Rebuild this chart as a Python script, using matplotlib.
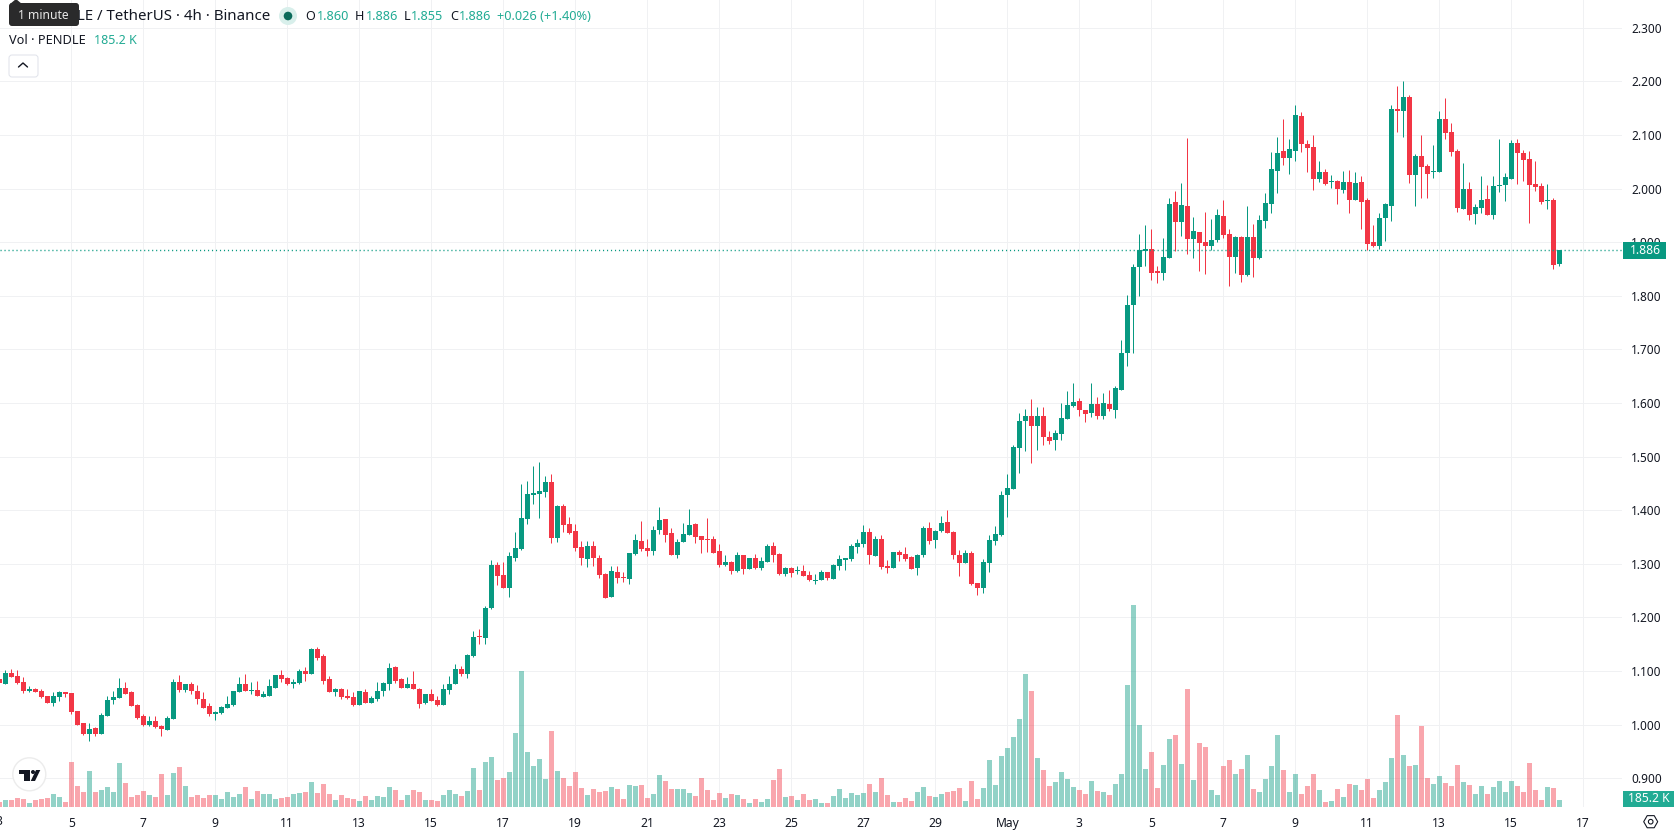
import numpy as np
import matplotlib
matplotlib.use("Agg")
import matplotlib.pyplot as plt
from matplotlib.patches import Circle, FancyBboxPatch, Polygon, Rectangle, RegularPolygon

# PENDLE / TetherUS, 4h candles
opens = [
    1.084,1.076,1.097,1.090,1.080,1.063,1.067,1.062,1.054,1.041,1.052,1.060,
    1.058,1.026,1.002,0.983,0.993,0.983,1.015,1.045,1.050,1.069,1.060,1.037,
    1.015,1.000,1.006,0.998,0.989,1.011,1.080,1.065,1.075,1.062,1.047,1.034,
    1.019,1.022,1.030,1.037,1.060,1.076,1.063,1.065,1.052,1.054,1.069,1.093,
    1.086,1.075,1.078,1.099,1.095,1.140,1.127,1.084,1.060,1.067,1.054,1.052,
    1.037,1.060,1.041,1.047,1.062,1.076,1.108,1.084,1.069,1.076,1.067,1.041,
    1.056,1.045,1.037,1.065,1.076,1.104,1.095,1.127,1.165,1.161,1.217,1.298,
    1.279,1.255,1.311,1.327,1.383,1.428,1.430,1.434,1.452,1.348,1.407,1.374,
    1.361,1.331,1.309,1.333,1.311,1.281,1.238,1.285,1.275,1.272,1.318,1.342,
    1.329,1.324,1.363,1.383,1.357,1.316,1.340,1.354,1.374,1.352,1.346,1.346,
    1.324,1.298,1.303,1.286,1.316,1.290,1.311,1.292,1.303,1.333,1.318,1.281,
    1.292,1.286,1.286,1.279,1.268,1.270,1.285,1.272,1.296,1.307,1.309,1.331,
    1.337,1.359,1.314,1.346,1.296,1.292,1.322,1.318,1.312,1.292,1.316,1.367,
    1.344,1.361,1.378,1.359,1.316,1.301,1.320,1.264,1.255,1.301,1.342,1.354,
    1.428,1.439,1.516,1.566,1.575,1.557,1.575,1.536,1.531,1.542,1.570,1.594,
    1.603,1.586,1.581,1.598,1.575,1.598,1.586,1.625,1.693,1.782,1.853,1.883,
    1.888,1.847,1.843,1.871,1.974,1.937,1.968,1.905,1.918,1.901,1.892,1.903,
    1.948,1.916,1.873,1.909,1.838,1.909,1.871,1.940,1.971,2.033,2.070,2.057,
    2.070,2.135,2.083,2.078,2.018,2.031,2.012,2.014,1.998,2.012,1.979,2.012,
    1.979,1.901,1.893,1.945,1.968,2.148,2.145,2.171,2.026,2.061,2.042,2.031,
    2.031,2.130,2.106,2.070,1.962,1.999,1.953,1.964,1.981,1.951,2.005,2.007,
    2.018,2.085,2.066,2.055,2.009,2.005,1.977,1.979,1.860,
]
highs = [
    1.084,1.101,1.103,1.101,1.088,1.071,1.069,1.067,1.054,1.060,1.062,1.060,
    1.058,1.026,1.003,1.002,0.996,1.021,1.054,1.063,1.086,1.080,1.062,1.039,
    1.019,1.015,1.015,1.000,1.015,1.084,1.093,1.076,1.080,1.073,1.060,1.041,
    1.026,1.035,1.054,1.063,1.088,1.095,1.080,1.082,1.063,1.084,1.093,1.101,
    1.088,1.084,1.103,1.108,1.142,1.144,1.131,1.090,1.069,1.069,1.067,1.060,
    1.063,1.067,1.054,1.080,1.080,1.114,1.110,1.086,1.088,1.099,1.069,1.056,
    1.067,1.054,1.075,1.090,1.112,1.110,1.131,1.174,1.178,1.221,1.307,1.303,
    1.303,1.322,1.359,1.449,1.454,1.482,1.490,1.463,1.467,1.409,1.411,1.387,
    1.374,1.342,1.342,1.342,1.316,1.283,1.296,1.296,1.285,1.320,1.355,1.380,
    1.346,1.370,1.406,1.383,1.367,1.346,1.376,1.402,1.376,1.352,1.385,1.352,
    1.337,1.316,1.305,1.322,1.316,1.311,1.318,1.312,1.337,1.340,1.320,1.294,
    1.294,1.296,1.298,1.286,1.281,1.288,1.285,1.299,1.316,1.311,1.337,1.346,
    1.372,1.367,1.352,1.354,1.307,1.322,1.325,1.331,1.314,1.318,1.370,1.378,
    1.363,1.389,1.400,1.361,1.325,1.325,1.324,1.264,1.309,1.354,1.370,1.435,
    1.467,1.521,1.581,1.588,1.607,1.592,1.592,1.547,1.549,1.599,1.622,1.637,
    1.609,1.586,1.637,1.611,1.618,1.625,1.631,1.717,1.801,1.860,1.916,1.931,
    1.924,1.855,1.907,1.983,1.996,2.011,2.095,1.946,1.918,1.957,1.944,1.961,
    1.979,1.924,1.911,1.912,1.968,1.933,1.951,1.992,2.068,2.096,2.130,2.093,
    2.156,2.143,2.091,2.100,2.052,2.037,2.026,2.016,2.033,2.035,2.031,2.024,
    1.983,1.931,1.955,1.973,2.156,2.191,2.201,2.175,2.065,2.100,2.046,2.081,
    2.145,2.169,2.122,2.074,2.048,2.012,1.971,2.024,2.007,2.024,2.093,2.029,
    2.091,2.093,2.072,2.070,2.052,2.011,2.009,1.983,1.886,
]
lows = [
    1.078,1.076,1.088,1.076,1.058,1.060,1.060,1.050,1.041,1.035,1.043,1.052,
    1.020,1.000,0.980,0.970,0.978,0.983,1.015,1.039,1.050,1.056,1.034,1.011,
    0.998,0.998,0.993,0.978,0.989,1.011,1.060,1.060,1.056,1.039,1.030,1.015,
    1.009,1.019,1.030,1.035,1.060,1.062,1.056,1.054,1.052,1.054,1.069,1.080,
    1.073,1.069,1.075,1.082,1.095,1.121,1.076,1.060,1.054,1.047,1.047,1.034,
    1.037,1.041,1.041,1.043,1.054,1.065,1.078,1.069,1.069,1.067,1.030,1.039,
    1.043,1.035,1.037,1.056,1.076,1.091,1.086,1.126,1.150,1.150,1.216,1.260,
    1.255,1.238,1.305,1.326,1.374,1.411,1.385,1.424,1.339,1.340,1.359,1.355,
    1.324,1.298,1.294,1.296,1.273,1.236,1.238,1.264,1.266,1.262,1.316,1.324,
    1.314,1.316,1.355,1.340,1.316,1.311,1.340,1.354,1.339,1.320,1.322,1.320,
    1.294,1.296,1.281,1.285,1.281,1.290,1.290,1.288,1.303,1.303,1.279,1.277,
    1.275,1.281,1.277,1.268,1.262,1.270,1.270,1.272,1.288,1.288,1.305,1.320,
    1.331,1.299,1.314,1.290,1.283,1.292,1.305,1.305,1.290,1.279,1.312,1.337,
    1.329,1.359,1.357,1.309,1.277,1.301,1.260,1.242,1.245,1.285,1.335,1.352,
    1.387,1.439,1.469,1.510,1.488,1.512,1.521,1.523,1.512,1.531,1.570,1.592,
    1.575,1.564,1.573,1.570,1.570,1.585,1.571,1.625,1.668,1.694,1.799,1.855,
    1.830,1.823,1.830,1.871,1.883,1.912,1.877,1.870,1.847,1.840,1.886,1.901,
    1.907,1.819,1.842,1.825,1.836,1.834,1.869,1.927,1.955,1.992,2.044,2.027,
    2.052,2.068,2.031,1.998,2.012,2.007,2.001,1.971,1.992,1.955,1.979,1.925,
    1.886,1.891,1.888,1.902,1.940,2.106,2.096,2.011,1.968,1.983,1.983,2.020,
    2.031,2.093,2.061,1.957,1.962,1.942,1.934,1.955,1.951,1.944,1.994,1.977,
    2.018,2.009,2.014,1.936,1.996,1.971,1.962,1.850,1.855,
]
closes = [
    1.078,1.097,1.088,1.078,1.063,1.067,1.060,1.052,1.041,1.054,1.060,1.056,
    1.024,1.000,0.983,0.991,0.983,1.017,1.045,1.052,1.069,1.056,1.035,1.013,
    1.000,1.006,0.996,0.991,1.013,1.080,1.065,1.075,1.062,1.047,1.030,1.019,
    1.024,1.032,1.039,1.062,1.076,1.063,1.065,1.054,1.056,1.071,1.093,1.084,
    1.075,1.080,1.099,1.095,1.140,1.125,1.082,1.060,1.067,1.052,1.050,1.037,
    1.062,1.041,1.050,1.062,1.078,1.106,1.082,1.069,1.076,1.067,1.039,1.056,
    1.043,1.037,1.067,1.076,1.104,1.095,1.129,1.163,1.163,1.217,1.298,1.277,
    1.255,1.314,1.329,1.385,1.430,1.432,1.435,1.452,1.348,1.407,1.372,1.357,
    1.329,1.311,1.333,1.311,1.279,1.236,1.286,1.273,1.273,1.320,1.344,1.327,
    1.324,1.363,1.381,1.354,1.316,1.340,1.355,1.372,1.350,1.344,1.344,1.320,
    1.298,1.303,1.286,1.316,1.290,1.311,1.292,1.305,1.333,1.316,1.281,1.292,
    1.283,1.288,1.277,1.270,1.270,1.285,1.273,1.298,1.309,1.311,1.333,1.339,
    1.359,1.316,1.346,1.294,1.292,1.322,1.316,1.309,1.290,1.316,1.367,1.342,
    1.361,1.376,1.357,1.316,1.301,1.320,1.262,1.255,1.303,1.344,1.355,1.428,
    1.441,1.517,1.566,1.575,1.557,1.575,1.536,1.529,1.544,1.571,1.596,1.601,
    1.586,1.579,1.598,1.575,1.599,1.588,1.627,1.693,1.782,1.853,1.885,1.888,
    1.843,1.843,1.873,1.972,1.937,1.970,1.905,1.920,1.899,1.892,1.903,1.950,
    1.914,1.873,1.909,1.838,1.909,1.871,1.942,1.973,2.037,2.066,2.057,2.074,
    2.137,2.083,2.076,2.018,2.031,2.009,2.014,1.999,2.012,1.979,2.011,1.975,
    1.897,1.893,1.945,1.971,2.148,2.145,2.171,2.026,2.061,2.040,2.027,2.033,
    2.130,2.104,2.068,1.964,1.999,1.951,1.966,1.979,1.951,2.005,2.007,2.022,
    2.085,2.066,2.053,2.007,2.003,1.975,1.979,1.858,1.886,
]
# Traded volume per candle, thousands of PENDLE
volumes_k = [
    132,185,185,238,212,106,185,212,238,344,265,132,
    1191,556,397,953,397,450,529,397,1164,635,265,318,
    423,318,265,873,318,900,1058,556,265,318,238,318,
    318,212,397,265,344,529,212,423,344,344,212,238,
    265,344,370,397,661,370,609,344,185,318,238,212,
    159,291,185,291,265,529,450,185,318,450,397,185,
    185,159,318,450,344,291,423,1032,450,1191,1323,714,
    767,926,1958,3598,1455,1085,1270,741,2011,953,767,556,
    926,503,318,476,397,423,529,476,212,582,556,582,
    238,344,847,688,476,476,476,370,291,767,450,185,
    370,238,344,318,212,106,212,132,212,714,1005,265,
    291,185,344,185,212,106,106,291,476,238,370,318,
    370,609,397,767,318,132,132,238,159,397,529,291,
    265,344,397,423,503,159,688,212,503,1244,582,1350,
    1561,1852,2328,3519,3069,1296,979,556,661,926,741,529,
    450,344,688,423,397,318,609,873,3228,5345,2170,1005,
    1455,503,1111,1799,1905,1138,3122,714,1693,1588,450,318,
    1085,1244,873,1005,1376,476,397,741,1085,1905,979,397,
    873,344,556,873,450,132,159,476,265,609,582,450,
    741,238,450,661,1296,2434,1376,1085,1111,2143,767,609,
    820,635,556,1111,661,582,344,556,344,529,688,397,
    688,556,397,1164,450,185,529,503,185.2,
]
price_ticks = [0.9,1.0,1.1,1.2,1.3,1.4,1.5,1.6,1.7,1.8,1.9,2.0,2.1,2.2,2.3]
day_positions = list(range(12, 265, 12))
day_labels = ['5','7','9','11','13','15','17','19','21','23','25','27','29',
              'May','3','5','7','9','11','13','15','17']
last_price = 1.886

UP, DOWN = '#089981', '#F23645'
TEAL_TEXT, INK, GRID = '#22AB94', '#131722', '#F0F1F3'
PX = 0.72  # one pixel in points at 100 dpi

plt.rcParams['font.family'] = ['Noto Sans', 'DejaVu Sans']
W, H = 1678, 835
fig = plt.figure(figsize=(W/100, H/100), dpi=100, facecolor='white')

# Chart pane: 1622 px wide, 807 px tall, anchored at the top-left corner
PANE_W, PANE_H = 1622, 807
ax = fig.add_axes([0, 1 - PANE_H/H, PANE_W/W, PANE_H/H])
ax.set_xlim(0.7/6, (PANE_W + 0.7)/6)
ax.set_ylim(2.2 - (PANE_H - 81.3)/536, 2.2 + 81.3/536)

o, h, l, c = map(np.array, (opens, highs, lows, closes))
idx = np.arange(len(o))
colors = np.where(c >= o, UP, DOWN)

# Volume shares the pane, on its own scale (about 26.46 K per pixel)
ax_v = ax.twinx()
ax_v.set_ylim(0, PANE_H*26.46)
ax_v.bar(idx, volumes_k, width=5/6, color=colors, alpha=0.44, linewidth=0)
ax_v.set_yticks([])
for s in ax_v.spines.values():
    s.set_visible(False)

ax.vlines(idx, l, h, colors=colors, linewidth=PX, zorder=3)
ax.bar(idx, np.abs(c - o), bottom=np.minimum(o, c), width=5/6, color=colors,
       linewidth=0, zorder=4)
ax.axhline(last_price, color=UP, linewidth=1.4*PX, linestyle=(0, (0.8, 2.05)), zorder=5)

ax.yaxis.set_ticks_position('right')
ax.set_yticks(price_ticks)
ax.set_yticklabels([f'{p:.3f}' for p in price_ticks])
ax.set_xticks(day_positions)
ax.set_xticklabels(day_labels)
ax.tick_params(axis='y', length=0, pad=6.5, labelsize=8.5, labelcolor=INK)
ax.tick_params(axis='x', length=0, pad=7.2, labelsize=8.7, labelcolor=INK)
for lbl in ax.get_xticklabels():
    if lbl.get_text() == 'May':
        lbl.set_fontweight('bold')
ax.grid(True, color=GRID, linewidth=PX)
ax.set_axisbelow(True)
for s in ax.spines.values():
    s.set_visible(False)
# The label of the first visible day sits half off the left edge
ax.text(0, -0.0183, '3', transform=ax.get_xaxis_transform(), ha='center',
        va='center', fontsize=8.7, color=INK, clip_on=False)

# Overlay in pixel coordinates for the legend, price tags and widgets
ov = fig.add_axes([0, 0, 1, 1], zorder=10)
ov.set_xlim(0, W)
ov.set_ylim(H, 0)
ov.axis('off')
ov.patch.set_alpha(0)

# Legend rows
ov.text(270.5, 16, 'PENDLE / TetherUS · 4h · Binance', ha='right', va='center',
        fontsize=10.8, color=INK)
ov.add_patch(Circle((288, 16), 9, fc='#D8EFEB', ec='none'))
ov.add_patch(Circle((288, 16), 4.3, fc='#0B6B5B', ec='none'))
for x_key, key, x_val, val in [(305, 'O', 317, '1.860'), (355, 'H', 366, '1.886'),
                               (404, 'L', 411, '1.855'), (450, 'C', 459, '1.886')]:
    ov.text(x_key, 16, key, ha='left', va='center', fontsize=9.1, color=INK)
    ov.text(x_val, 16, val, ha='left', va='center', fontsize=9.1, color=TEAL_TEXT)
ov.text(497, 16, '+0.026 (+1.40%)', ha='left', va='center', fontsize=9.2, color=TEAL_TEXT)
ov.text(9, 40, 'Vol · PENDLE', ha='left', va='center', fontsize=9.2, color=INK)
ov.text(94, 40, '185.2 K', ha='left', va='center', fontsize=9, color=TEAL_TEXT)

# Collapse button
ov.add_patch(FancyBboxPatch((11, 57), 25, 18, boxstyle='round,pad=2,rounding_size=3',
                            fc='white', ec='#E0E3EB', lw=PX))
ov.plot([18.5, 23, 27.5], [67, 63, 67], color=INK, lw=1.4*PX, solid_capstyle='round')

# Tooltip over the symbol name
ov.add_patch(FancyBboxPatch((11, 5), 66, 19, boxstyle='round,pad=2,rounding_size=3',
                            fc='#2A2A2B', ec='none', zorder=6))
ov.add_patch(Polygon([(10, 4), (16, -1), (22, 4)], closed=True, fc='#2A2A2B', ec='none', zorder=6))
ov.text(43.5, 15.5, '1 minute', ha='center', va='center', fontsize=8.7, color='#E8E8E8', zorder=7)

# Last-price and last-volume tags on the scale
ov.add_patch(Rectangle((1623, 242.3), 43, 16.4, fc=UP, ec='none', zorder=6))
ov.text(1645, 250.3, '1.886', ha='center', va='center', fontsize=8.7, color='white', zorder=7)
ov.add_patch(Rectangle((1623, 791), 51, 16, fc=TEAL_TEXT, ec='none', zorder=6))
ov.text(1648.5, 799, '185.2 K', ha='center', va='center', fontsize=8.7, color='white', zorder=7)

# Scale settings icon
ov.add_patch(RegularPolygon((1650.7, 821.7), 6, radius=7, orientation=np.pi/6,
                            fc='none', ec=INK, lw=1.1*PX))
ov.add_patch(Circle((1650.7, 821.7), 2.3, fc='none', ec=INK, lw=1.1*PX))

# Watermark badge
ov.add_patch(Circle((29.3, 774.3), 16.5, fc='white', ec='#ECECEC', lw=1.4*PX))
ov.add_patch(Polygon([(19, 770), (30, 770), (30, 781), (24, 781), (24, 774), (19, 774)],
                     closed=True, fc='#131722', ec='none'))
ov.add_patch(Circle((33, 772), 2, fc='#131722', ec='none'))
ov.add_patch(Polygon([(36, 770), (40.3, 770), (35, 781), (30.7, 781)],
                     closed=True, fc='#131722', ec='none'))

fig.savefig('out.png', dpi=100, facecolor='white')
